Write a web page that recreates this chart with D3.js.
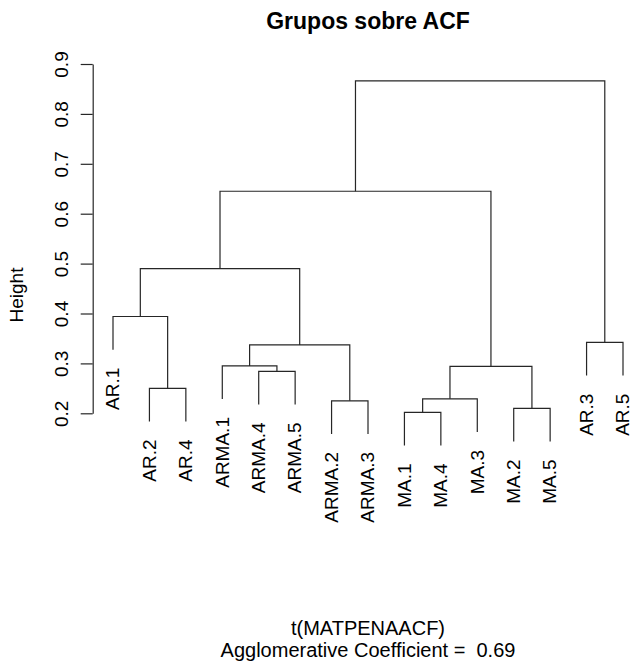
<!DOCTYPE html>
<html>
<head>
<meta charset="utf-8">
<script src="https://cdn.jsdelivr.net/npm/d3@7"></script>
<style>
  html, body { margin: 0; padding: 0; background: #fff; }
  svg { display: block; font-family: "Liberation Sans", Arial, Helvetica, sans-serif; }
</style>
</head>
<body>
<svg id="chart" width="632" height="666"></svg>
<script>
// Leaves in dendrogram order (left to right)
const leafLabels = ["AR.1", "AR.2", "AR.4", "ARMA.1", "ARMA.4", "ARMA.5", "ARMA.2", "ARMA.3",
                    "MA.1", "MA.4", "MA.3", "MA.2", "MA.5", "AR.3", "AR.5"];
// Merge steps, hclust style: negative = leaf (1-based position), positive = earlier merge (1-based)
const mergeLeft   = [-9, -12, -7, 1, -2, -5, -4, 4, 7, -14, -1, 11, 12, 13];
const mergeRight  = [-10, -13, -8, -11, -3, -6, 6, 2, 3, -15, 5, 9, 8, 10];
const mergeHeight = [0.202, 0.210, 0.225, 0.229, 0.250, 0.284, 0.295, 0.294, 0.337, 0.342, 0.394, 0.490, 0.645, 0.866];
const yTicks = [0.2, 0.3, 0.4, 0.5, 0.6, 0.7, 0.8, 0.9];
const titleText = "Grupos sobre ACF";
const subLines = ["t(MATPENAACF)", "Agglomerative Coefficient =  0.69"];

const svg = d3.select("#chart");
const ink = "#262626";
const fontSize = 19;

const x = d3.scaleLinear().domain([1, leafLabels.length]).range([113, 623]);
const y = d3.scaleLinear().domain([0.2, 0.9]).range([413.3, 64]);

// leaves hang 10% of the height range below their parent merge
const hang = 0.1 * (d3.max(mergeHeight) - d3.min(mergeHeight));

// positions of every merge node
const nodeX = [], nodeH = mergeHeight.slice();
function childX(c) { return c < 0 ? x(-c) : nodeX[c - 1]; }
mergeLeft.forEach((l, i) => {
  nodeX[i] = (childX(l) + childX(mergeRight[i])) / 2;
});

const g = svg.append("g")
  .attr("fill", "none")
  .attr("stroke", ink)
  .attr("stroke-width", 1.2);

const leafEnd = {};
mergeLeft.forEach((l, i) => {
  const h = mergeHeight[i];
  const r = mergeRight[i];
  const xl = childX(l), xr = childX(r);
  const yl = l < 0 ? h - hang : nodeH[l - 1];
  const yr = r < 0 ? h - hang : nodeH[r - 1];
  if (l < 0) leafEnd[-l] = yl;
  if (r < 0) leafEnd[-r] = yr;
  const path = d3.path();
  path.moveTo(xl, y(yl));
  path.lineTo(xl, y(h));
  path.lineTo(xr, y(h));
  path.lineTo(xr, y(yr));
  g.append("path").attr("d", path.toString());
});

// leaf labels, rotated, hanging under each leaf
svg.append("g")
  .selectAll("text")
  .data(leafLabels)
  .join("text")
  .attr("transform", (d, i) => `translate(${x(i + 1)},${y(leafEnd[i + 1]) + 18}) rotate(-90)`)
  .attr("text-anchor", "end")
  .attr("dy", "0.33em")
  .attr("font-size", fontSize)
  .attr("fill", "#000")
  .text(d => d);

// y axis
const axis = svg.append("g")
  .attr("transform", "translate(92.7,0)")
  .call(d3.axisLeft(y).tickValues(yTicks).tickSize(12).tickSizeOuter(0).tickFormat(d3.format(".1f")));
axis.select(".domain").attr("stroke", ink).attr("stroke-width", 1.2);
axis.selectAll(".tick line").attr("stroke", ink).attr("stroke-width", 1.2);
axis.selectAll(".tick text")
  .attr("x", 0)
  .attr("y", -24.5)
  .attr("dy", 0)
  .attr("transform", "rotate(-90)")
  .attr("text-anchor", "middle")
  .attr("font-size", fontSize)
  .attr("font-family", "Liberation Sans, Arial, sans-serif")
  .attr("fill", "#000");

// y axis title
svg.append("text")
  .attr("transform", "translate(23,295) rotate(-90)")
  .attr("text-anchor", "middle")
  .attr("font-size", fontSize)
  .text("Height");

// main title
svg.append("text")
  .attr("x", 368).attr("y", 29)
  .attr("text-anchor", "middle")
  .attr("font-size", 23)
  .attr("font-weight", "bold")
  .text(titleText);

// sub title lines
svg.append("g")
  .selectAll("text")
  .data(subLines)
  .join("text")
  .attr("x", 368)
  .attr("y", (d, i) => 635 + i * 22)
  .attr("text-anchor", "middle")
  .attr("font-size", 20)
  .style("white-space", "pre")
  .text(d => d);
</script>
</body>
</html>
